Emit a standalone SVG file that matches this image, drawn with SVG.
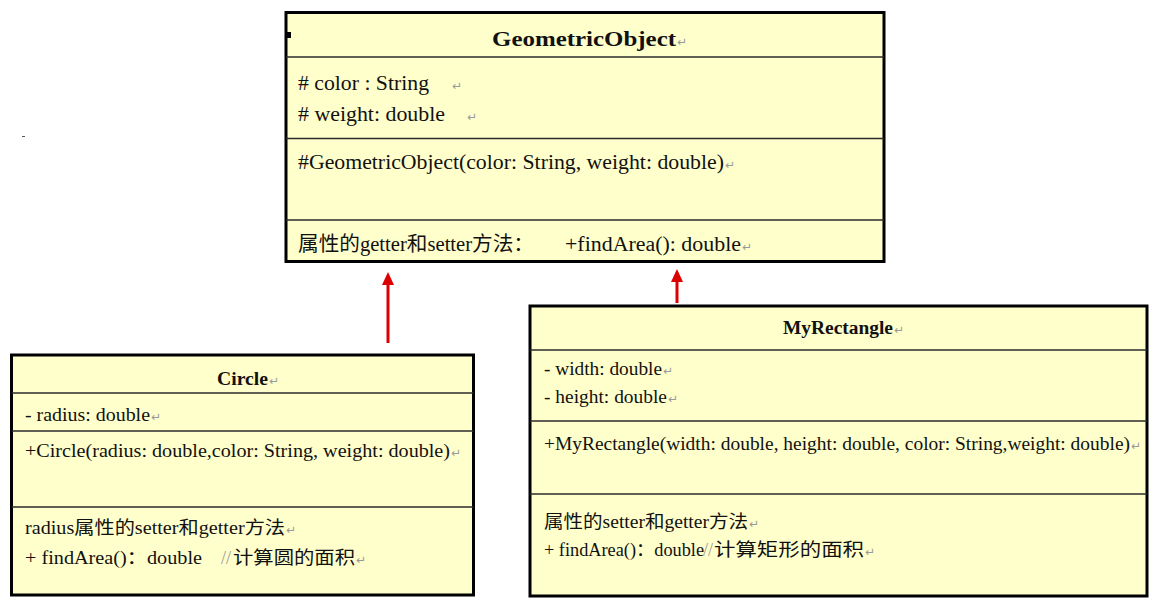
<svg xmlns="http://www.w3.org/2000/svg" width="1156" height="601" viewBox="0 0 1156 601">
<defs>
<style>
.box{fill:#FFFFCC;stroke:#000;stroke-width:3}
.div{stroke:#2a2a2a;stroke-width:1.5}
text{font-family:"Liberation Serif","Noto Sans CJK SC",serif;fill:#111}
.t{font-weight:bold}
.g20{font-size:20px}
.g18{font-size:18px}
.rt{font-family:"Liberation Sans","DejaVu Sans",sans-serif;fill:#999;font-size:12px}
.sl{fill:#999}
.arr{stroke:#DD0000;stroke-width:3}
.head{fill:#DD0000}
</style>
</defs>
<rect width="1156" height="601" fill="#fff"/>
<rect x="22" y="136" width="3" height="1" fill="#555"/>

<g id="connectors">
<line class="arr" x1="388" y1="343" x2="388" y2="282"/>
<polygon class="head" points="388,272 382,285 394,285"/>
<line class="arr" x1="677" y1="303" x2="677" y2="279"/>
<polygon class="head" points="677,269 671,282 683,282"/>
</g>

<g id="GeometricObject">
<rect class="box" x="286" y="12.5" width="598" height="249"/>
<rect x="285" y="32" width="6" height="6" fill="#000"/>
<line class="div" x1="286" y1="57" x2="884" y2="57"/>
<line class="div" x1="286" y1="138.5" x2="884" y2="138.5"/>
<line class="div" x1="286" y1="220" x2="884" y2="220"/>
<text class="t" x="492" y="46" font-size="22" textLength="184" lengthAdjust="spacingAndGlyphs">GeometricObject</text>
<text class="rt" x="677" y="46">↵</text>
<text class="g20" x="298" y="90" textLength="131" lengthAdjust="spacingAndGlyphs">#&#160;color : String</text>
<text class="rt" x="452" y="90">↵</text>
<text class="g20" x="298" y="121" textLength="147" lengthAdjust="spacingAndGlyphs">#&#160;weight: double</text>
<text class="rt" x="467" y="121">↵</text>
<text class="g20" x="298" y="169" textLength="426" lengthAdjust="spacingAndGlyphs">#GeometricObject(color: String, weight: double)</text>
<text class="rt" x="725" y="169">↵</text>
<text class="g20" x="298" y="251" textLength="236" lengthAdjust="spacingAndGlyphs">属性的getter和setter方法：</text>
<text class="g20" x="565" y="251" textLength="176" lengthAdjust="spacingAndGlyphs">+findArea(): double</text>
<text class="rt" x="742" y="251">↵</text>
</g>

<g id="Circle">
<rect class="box" x="11.5" y="355" width="462" height="240"/>
<line class="div" x1="11.5" y1="393" x2="473.5" y2="393"/>
<line class="div" x1="11.5" y1="431" x2="473.5" y2="431"/>
<line class="div" x1="11.5" y1="507" x2="473.5" y2="507"/>
<text class="t" x="217" y="385" font-size="19" textLength="51" lengthAdjust="spacingAndGlyphs">Circle</text>
<text class="rt" x="269" y="385">↵</text>
<text class="g18" x="25" y="421" textLength="125" lengthAdjust="spacingAndGlyphs">- radius: double</text>
<text class="rt" x="151" y="421">↵</text>
<text class="g18" x="25" y="457" textLength="425" lengthAdjust="spacingAndGlyphs">+Circle(radius: double,color: String, weight: double)</text>
<text class="rt" x="451" y="457">↵</text>
<text class="g18" x="25" y="534" textLength="260" lengthAdjust="spacingAndGlyphs">radius属性的setter和getter方法</text>
<text class="rt" x="286" y="534">↵</text>
<text class="g18" x="25" y="564" textLength="177" lengthAdjust="spacingAndGlyphs">+ findArea()：double</text>
<text class="g18 sl" x="221" y="564">//</text>
<text class="g18" x="233" y="564" textLength="122" lengthAdjust="spacingAndGlyphs">计算圆的面积</text>
<text class="rt" x="356" y="564">↵</text>
</g>

<g id="MyRectangle">
<rect class="box" x="530" y="306" width="617" height="290"/>
<line class="div" x1="530" y1="350" x2="1147" y2="350"/>
<line class="div" x1="530" y1="421" x2="1147" y2="421"/>
<line class="div" x1="530" y1="494" x2="1147" y2="494"/>
<text class="t" x="783" y="334" font-size="18" textLength="110" lengthAdjust="spacingAndGlyphs">MyRectangle</text>
<text class="rt" x="894" y="334">↵</text>
<text class="g18" x="544" y="375" textLength="118" lengthAdjust="spacingAndGlyphs">- width: double</text>
<text class="rt" x="663" y="375">↵</text>
<text class="g18" x="544" y="403" textLength="123" lengthAdjust="spacingAndGlyphs">- height: double</text>
<text class="rt" x="668" y="403">↵</text>
<text class="g18" x="544" y="450" textLength="586" lengthAdjust="spacingAndGlyphs">+MyRectangle(width: double, height: double, color: String,weight: double)</text>
<text class="rt" x="1131" y="450">↵</text>
<text class="g18" x="544" y="528" textLength="204" lengthAdjust="spacingAndGlyphs">属性的setter和getter方法</text>
<text class="rt" x="749" y="528">↵</text>
<text class="g18" x="544" y="556" textLength="160" lengthAdjust="spacingAndGlyphs">+ findArea()：double</text>
<text class="g18 sl" x="703" y="556">//</text>
<text class="g18" x="714" y="556" textLength="150" lengthAdjust="spacingAndGlyphs">计算矩形的面积</text>
<text class="rt" x="865" y="556">↵</text>
</g>
</svg>
